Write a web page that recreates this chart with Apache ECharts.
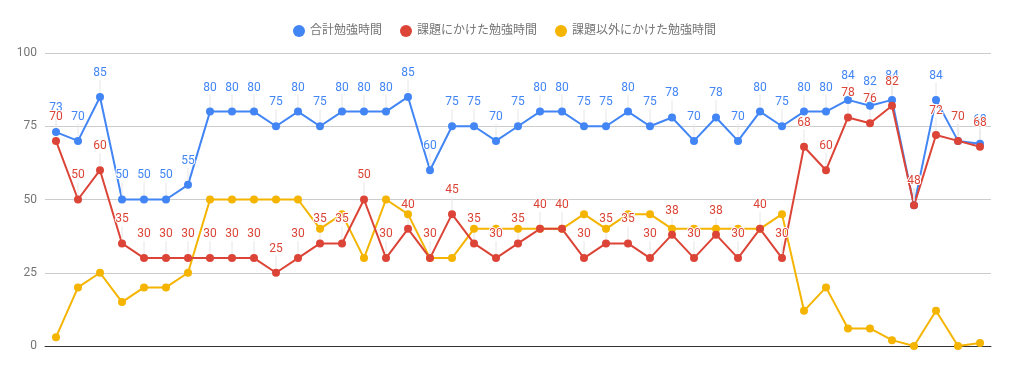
<!DOCTYPE html>
<html><head><meta charset="utf-8">
<script src="https://cdn.jsdelivr.net/npm/echarts@6/dist/echarts.min.js"></script>
<style>html,body{margin:0;padding:0;background:#fff}#c{width:1009px;height:373px}</style>
</head><body><div id="c"></div>
<script>
const seriesNames = ['合計勉強時間', '課題にかけた勉強時間', '課題以外にかけた勉強時間'];
const categories = Array.from({length: 43}, (_, i) => String(i + 1));
const totalHours = [73,70,85,50,50,50,55,80,80,80,75,80,75,80,80,80,85,60,75,75,70,75,80,80,75,75,80,75,78,70,78,70,80,75,80,80,84,82,84,48,84,70,69];
const taskHours = [70,50,60,35,30,30,30,30,30,30,25,30,35,35,50,30,40,30,45,35,30,35,40,40,30,35,35,30,38,30,38,30,40,30,68,60,78,76,82,48,72,70,68];
const otherHours = [3,20,25,15,20,20,25,50,50,50,50,50,40,45,30,50,45,30,30,40,40,40,40,40,45,40,45,45,40,40,40,40,40,45,12,20,6,6,2,0,12,0,1];
const yTicks = [0,25,50,75,100];
const colors = ['#4285F4', '#DB4437', '#F4B400'];
const font = "Roboto, 'Noto Sans CJK JP', sans-serif";

function mk(name, data, color, withLabel) {
  return {
    name, type: 'line', data,
    symbol: 'circle', symbolSize: 8,
    lineStyle: {width: 2, color},
    itemStyle: {color},
    label: withLabel ? {
      show: true, position: 'top', distance: 4, color, fontSize: 12, fontFamily: font,
      textBorderColor: '#fff', textBorderWidth: 2
    } : {show: false},
    labelLayout: withLabel ? {dy: -10} : undefined,
    labelLine: withLabel ? {show: true, lineStyle: {color: '#e6e6e6', width: 1}} : undefined,
    emphasis: {disabled: true},
    animation: false
  };
}

const chart = echarts.init(document.getElementById('c'));
chart.setOption({
  animation: false,
  textStyle: {fontFamily: font},
  legend: {
    top: 20, left: 'center', icon: 'circle', itemWidth: 12, itemHeight: 12, itemGap: 18,
    textStyle: {color: '#757575', fontSize: 12, fontFamily: font}
  },
  grid: {left: 45, right: 18, top: 53, bottom: 27},
  xAxis: {
    type: 'category', data: categories, boundaryGap: true,
    axisLine: {lineStyle: {color: '#333'}}, axisTick: {show: false}, axisLabel: {show: false}
  },
  yAxis: {
    type: 'value', min: yTicks[0], max: yTicks[yTicks.length-1], interval: 25,
    axisLine: {show: false}, axisTick: {show: false},
    axisLabel: {color: '#757575', fontSize: 12, margin: 8},
    splitLine: {lineStyle: {color: '#cccccc'}}
  },
  series: [
    mk(seriesNames[2], otherHours, colors[2], false),
    mk(seriesNames[0], totalHours, colors[0], true),
    mk(seriesNames[1], taskHours, colors[1], true)
  ]
});
chart.setOption({legend: {data: seriesNames}});
</script></body></html>
